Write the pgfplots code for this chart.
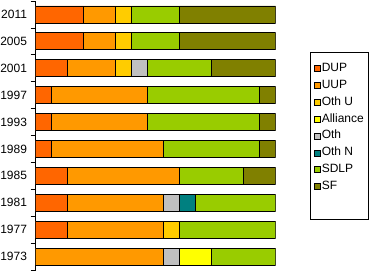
\documentclass[border=0pt]{standalone}
\usepackage{fontspec}
\setmainfont{Liberation Sans}
\usepackage{pgfplots}
\pgfplotsset{compat=1.18}
\usepackage{pgfplotstable}

\definecolor{cDUP}{HTML}{FF6600}
\definecolor{cUUP}{HTML}{FF9900}
\definecolor{cOthU}{HTML}{FFCC00}
\definecolor{cAll}{HTML}{FFFF00}
\definecolor{cOth}{HTML}{C0C0C0}
\definecolor{cOthN}{HTML}{008080}
\definecolor{cSDLP}{HTML}{99CC00}
\definecolor{cSF}{HTML}{808000}

% seats won, one row per election (0 = 1973 ... 9 = 2011)
\pgfplotstableread{
yr DUP UUP OthU Oth All OthN SDLP SF
0  0   8   0    1   2   0    4    0
1  2   6   1    0   0   0    6    0
2  2   6   0    1   0   1    5    0
3  2   7   0    0   0   0    4    2
4  1   7   0    0   0   0    6    1
5  1   6   0    0   0   0    7    1
6  1   6   0    0   0   0    7    1
7  2   3   1    1   0   0    4    4
8  3   2   1    0   0   0    3    6
9  3   2   1    0   0   0    3    6
}\seats

\begin{document}
\begin{tikzpicture}
\path[use as bounding box] (0,0) rectangle (376bp,271bp);
\begin{axis}[
    at={(35.7bp,1bp)}, anchor=south west,
    scale only axis, width=240bp, height=269bp,
    xbar stacked, bar width=17bp,
    xmin=0, xmax=15, ymin=-0.5, ymax=9.5,
    enlargelimits=false,
    axis x line=none, axis y line*=left,
    axis line style={black, line width=0.8bp},
    ytick={0,...,9},
    yticklabels={1973,1977,1981,1985,1989,1993,1997,2001,2005,2011},
    major tick length=0pt,
    minor ytick={-0.5,0.5,...,9.5},
    minor tick length=5bp,
    tick align=outside,
    minor tick style={black, line width=0.8bp},
    yticklabel style={font=\fontsize{12bp}{14bp}\selectfont, anchor=east, inner sep=0pt, xshift=-8.5bp},
    every axis plot/.append style={draw=black, line width=0.8bp},
    legend style={at={(rel axis cs:1.142,0.186)}, anchor=south west,
        draw=black, line width=0.8bp, inner xsep=4bp, inner ysep=9bp,
        row sep=2.9bp,
        font=\fontsize{12bp}{14bp}\selectfont,
        nodes={inner xsep=1bp, inner ysep=1bp, text height=9bp, text depth=3bp}},
    legend cell align=left,
    legend image code/.code={\draw[#1, draw=black, line width=0.6bp] (0bp,-3bp) rectangle (6bp,3bp);},
]
\addplot[fill=cDUP, forget plot] table[x=DUP, y=yr] {\seats};
\addplot[fill=cUUP, forget plot] table[x=UUP, y=yr] {\seats};
\addplot[fill=cOthU, forget plot] table[x=OthU, y=yr] {\seats};
\addplot[fill=cOth, forget plot] table[x=Oth, y=yr] {\seats};
\addplot[fill=cAll, forget plot] table[x=All, y=yr] {\seats};
\addplot[fill=cOthN, forget plot] table[x=OthN, y=yr] {\seats};
\addplot[fill=cSDLP, forget plot] table[x=SDLP, y=yr] {\seats};
\addplot[fill=cSF, forget plot] table[x=SF, y=yr] {\seats};

\addlegendimage{fill=cDUP}\addlegendentry{DUP}
\addlegendimage{fill=cUUP}\addlegendentry{UUP}
\addlegendimage{fill=cOthU}\addlegendentry{Oth U}
\addlegendimage{fill=cAll}\addlegendentry{Alliance}
\addlegendimage{fill=cOth}\addlegendentry{Oth}
\addlegendimage{fill=cOthN}\addlegendentry{Oth N}
\addlegendimage{fill=cSDLP}\addlegendentry{SDLP}
\addlegendimage{fill=cSF}\addlegendentry{SF}
\addlegendimage{empty legend}\addlegendentry{}
\end{axis}
\end{tikzpicture}
\end{document}
